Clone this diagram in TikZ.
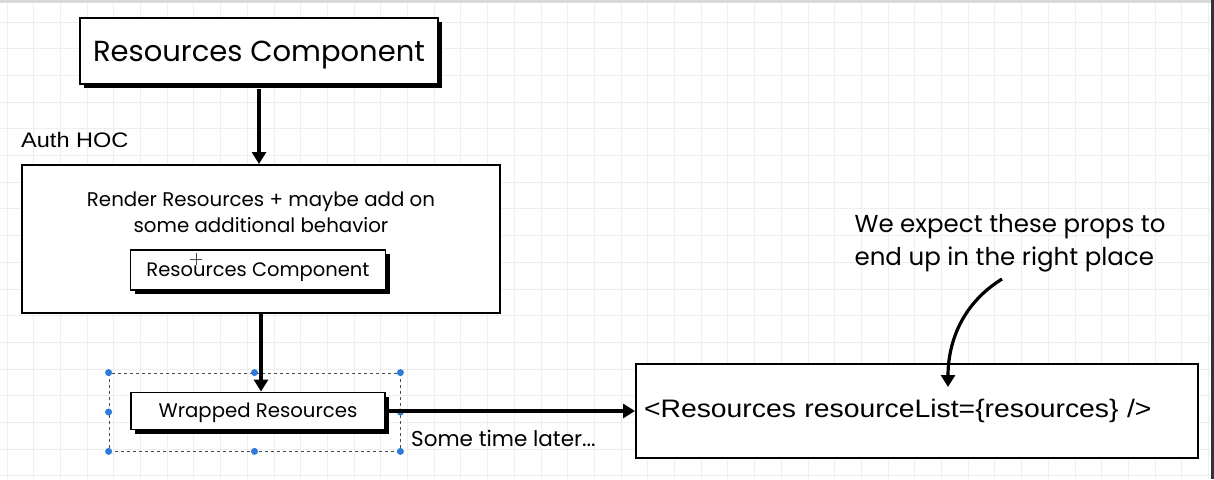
\documentclass[tikz,border=0pt]{standalone}
\usepackage{fontspec}
\setmainfont{Poppins}
\newfontfamily\arialf[FakeStretch=1.12]{Liberation Sans}
\usetikzlibrary{arrows.meta,shadows}
\definecolor{gridc}{HTML}{EEEEEE}
\definecolor{selblue}{HTML}{2E7BD6}
\tikzset{
  box/.style={draw=black, line width=2pt, fill=white, inner sep=0pt},
  sbox/.style={box, text depth=0pt, drop shadow={shadow xshift=4pt, shadow yshift=-4pt, opacity=1, fill=black}},
  bigarrow/.style={line width=3.5pt, -{Triangle[width=14pt,length=12pt]}},
  handle/.style={circle, fill=selblue, inner sep=0pt, minimum size=7pt},
}
\begin{document}
\begin{tikzpicture}[x=1pt,y=-1pt]
\useasboundingbox (0,0) rectangle (1214,479);
\fill[white] (0,0) rectangle (1214,479);
% grid
\foreach \i in {0,...,45} {\draw[gridc, line width=1pt] (7+26.7*\i,0) -- (7+26.7*\i,479);}
\foreach \j in {0,...,17} {\draw[gridc, line width=1pt] (0,22+26.7*\j) -- (1214,22+26.7*\j);}
\fill[black!15] (0,0) rectangle (1214,3);
\fill[black!80] (1211,0) rectangle (1214,479);

% top component
\node[sbox, text height=20pt, minimum width=358pt, minimum height=66pt, font=\fontsize{29}{32}\selectfont] (top) at (259,51) {Resources Component};

\node[anchor=west, font=\arialf\fontsize{21}{24}\selectfont, inner sep=0pt] (auth) at (21,140) {Auth HOC};

% HOC box
\node[box, minimum width=478pt, minimum height=148pt] (hoc) at (261,239) {};
\node[align=center, font=\fontsize{19.8}{26}\selectfont, inner sep=0pt] (hoctext) at (261,212) {Render Resources + maybe add on\\some additional behavior};
\node[sbox, text height=13.6pt, line width=1.8pt, minimum width=255pt, minimum height=40pt, font=\fontsize{19.5}{22}\selectfont] (inner) at (258,270) {Resources Component};
\draw[black!70, line width=0.6pt] (190,259) -- (202,259) (196,253) -- (196,265);

% wrapped
\node[draw=black!70, dashed, line width=0.8pt, minimum width=291pt, minimum height=78pt, inner sep=0pt] (sel) at (254.5,412) {};
\node[sbox, text height=13.8pt, line width=1.8pt, minimum width=254pt, minimum height=37pt, font=\fontsize{19.7}{22}\selectfont] (wrapped) at (258,411) {Wrapped Resources};
\foreach \a in {north west,north,north east,west,east,south west,south,south east} {\node[handle] at (sel.\a) {};}

% right box
\node[box, minimum width=562pt, minimum height=94pt, text width=546pt, align=left, font=\arialf\fontsize{25.3}{28}\selectfont] (right) at (917,411) {<Resources resourceList=\{resources\} />};

\node[align=left, font=\fontsize{24.5}{33}\selectfont, inner sep=0pt] (note) at (1010,243) {We expect these props to\\end up in the right place};

% arrows
\draw[bigarrow] (top.south) ++(0,4) -- (top.south |- hoc.north);
\draw[bigarrow] (hoc.south) -- (hoc.south |- wrapped.north);
\draw[bigarrow] (wrapped.east) -- (wrapped.east -| right.west);
\node[anchor=west, font=\fontsize{21.5}{24}\selectfont, inner sep=0pt] (later) at (411,438) {Some time later...};
\coordinate (cs) at (1002,279);
\coordinate (ce) at (948,387);
\draw[bigarrow, line width=3.2pt] (cs) .. controls (960,305) and (948,345) .. (ce);
\end{tikzpicture}
\end{document}
